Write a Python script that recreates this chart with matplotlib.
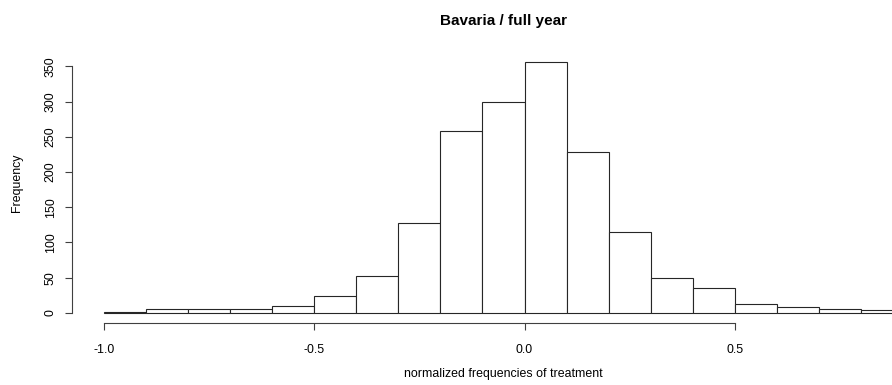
import numpy as np
import matplotlib
matplotlib.use("Agg")
import matplotlib.pyplot as plt

# Histogram bins (width 0.1) and counts
bin_edges = [-1.0, -0.9, -0.8, -0.7, -0.6, -0.5, -0.4, -0.3, -0.2, -0.1,
             0.0, 0.1, 0.2, 0.3, 0.4, 0.5, 0.6, 0.7, 0.8, 0.9]
counts = [2, 5, 6, 6, 10, 24, 53, 128, 258, 300,
          356, 229, 115, 49, 36, 13, 9, 6, 4]
x_ticks = [-1.0, -0.5, 0.0, 0.5]
x_tick_labels = ["-1.0", "-0.5", "0.0", "0.5"]
y_ticks = [0, 50, 100, 150, 200, 250, 300, 350]
title = "Bavaria / full year"
x_label = "normalized frequencies of treatment"
y_label = "Frequency"

plt.rcParams["font.family"] = ["Liberation Sans", "DejaVu Sans"]

W, H = 892, 385
fig = plt.figure(figsize=(W / 100, H / 100), dpi=100)
fig.patch.set_facecolor("white")

# plot region in pixels (extends past the right edge of the figure)
px_l, px_r, px_t, px_b = 72, 935, 52, 323
ax = fig.add_axes([px_l / W, (H - px_b) / H, (px_r - px_l) / W, (px_b - px_t) / H])
ax.set_facecolor("white")

lefts = np.array(bin_edges[:-1])
widths = np.diff(bin_edges)
ax.bar(lefts, counts, width=widths, align="edge", facecolor="white",
       edgecolor="#262626", linewidth=0.8)

# R-style 4% padding around the data range
xr = bin_edges[-1] - bin_edges[0]
ax.set_xlim(bin_edges[0] - 0.04 * xr, bin_edges[-1] + 0.04 * xr)
ymax = max(counts)
ax.set_ylim(-0.04 * ymax, 1.04 * ymax)

for s in ["top", "right"]:
    ax.spines[s].set_visible(False)
for s in ["bottom", "left"]:
    ax.spines[s].set_linewidth(0.8)
    ax.spines[s].set_color("#404040")
ax.spines["bottom"].set_bounds(x_ticks[0], x_ticks[-1])
ax.spines["left"].set_bounds(y_ticks[0], y_ticks[-1])

ax.set_xticks(x_ticks)
ax.set_xticklabels(x_tick_labels)
ax.set_yticks(y_ticks)
ax.tick_params(axis="both", direction="out", length=5, width=0.8,
               color="#404040", labelsize=8.9)
ax.tick_params(axis="x", pad=10)
ax.tick_params(axis="y", labelrotation=90, pad=6)
for lbl in ax.get_yticklabels():
    lbl.set_va("center")

fig.text((px_l + px_r) / 2 / W, 1 - 21 / H, title, ha="center", va="center",
         fontsize=11, fontweight="bold")
fig.text((px_l + px_r) / 2 / W, 1 - 374 / H, x_label, ha="center",
         va="center", fontsize=8.9)
fig.text(17 / W, 1 - 183 / H, y_label, ha="center", va="center",
         rotation=90, fontsize=8.9)

fig.savefig("out.png", dpi=100, facecolor="white")
